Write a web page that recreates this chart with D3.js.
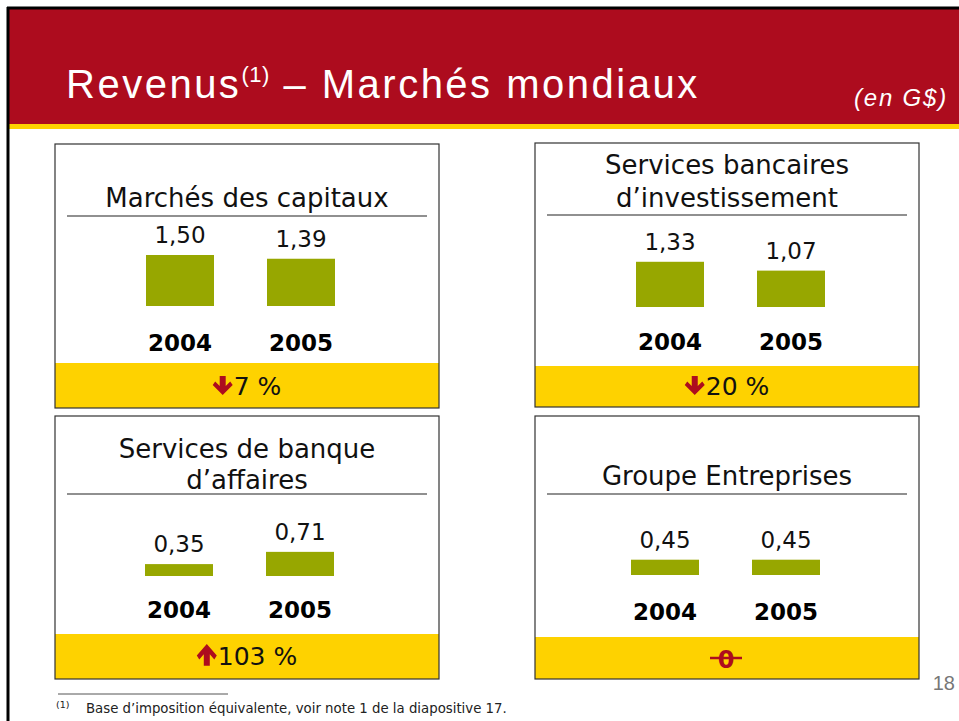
<!DOCTYPE html>
<html>
<head>
<meta charset="utf-8">
<script src="https://cdn.jsdelivr.net/npm/d3@7"></script>
<style>
  body { margin: 0; background: #fff; }
  svg { display: block; }
</style>
</head>
<body>
<div id="slide"></div>
<script>
// data (G$)
const years = ["2004", "2005"];
const titles = [
  ["Marchés des capitaux"],
  ["Services bancaires", "d’investissement"],
  ["Services de banque", "d’affaires"],
  ["Groupe Entreprises"]
];
const values2004 = [1.50, 1.33, 0.35, 0.45];
const values2005 = [1.39, 1.07, 0.71, 0.45];
const changes = [-7, -20, 103, 0];

// panel geometry (not data)
const layout = [
  { x: 55,  y: 144, h: 264, band: 219, rule: 72, tBase: [63],     base: 162, yr: 207, pct: 251, bar0: 91 },
  { x: 535, y: 143, h: 264, band: 223, rule: 72, tBase: [31, 64], base: 164, yr: 207, pct: 252, bar0: 101 },
  { x: 55,  y: 416, h: 263, band: 218, rule: 78, tBase: [42, 73], base: 160, yr: 202, pct: 249, bar0: 90 },
  { x: 535, y: 416, h: 263, band: 221, rule: 78, tBase: [69],     base: 159, yr: 204, pct: 252, bar0: 96 }
];
const panelW = 384;

const RED = "#ad0c1e", YELLOW = "#fed200", BAR = "#97a700";
const FONT = "'DejaVu Sans', Verdana, sans-serif";

const svg = d3.select("#slide").append("svg")
  .attr("width", 959).attr("height", 721);

// header
svg.append("rect").attr("x", 9).attr("y", 9).attr("width", 950).attr("height", 116).attr("fill", RED);
svg.append("rect").attr("x", 9).attr("y", 124).attr("width", 950).attr("height", 5).attr("fill", YELLOW);
svg.append("line").attr("x1", 7).attr("x2", 959).attr("y1", 8).attr("y2", 8)
  .attr("stroke", "#000").attr("stroke-width", 3);
svg.append("line").attr("x1", 8).attr("x2", 8).attr("y1", 7).attr("y2", 721)
  .attr("stroke", "#000").attr("stroke-width", 3);

const head = svg.append("text").attr("x", 66).attr("y", 98)
  .attr("fill", "#fff").attr("font-family", "'Liberation Sans', Arial, sans-serif")
  .attr("font-size", 40).attr("letter-spacing", 2.5);
head.append("tspan").text("Revenus");
head.append("tspan").attr("font-size", 22).attr("letter-spacing", 0.5).attr("dy", -16).text("(1)");
head.append("tspan").attr("dy", 16).text(" – Marchés mondiaux");

svg.append("text").attr("x", 948).attr("y", 106).attr("text-anchor", "end")
  .attr("fill", "#fff").attr("font-family", "'Liberation Sans', Arial, sans-serif")
  .attr("font-style", "italic").attr("font-size", 24).attr("letter-spacing", 1.8).text("(en G$)");

// bar height scale shared by all panels
const h = d3.scaleLinear().domain([0, 1.5]).range([0, 51]);

function arrowPath(up) {
  const pts = [[7,0],[13,0],[13,10],[17.5,5.5],[20,9],[10,19],[0,9],[2.5,5.5],[7,10]];
  return d3.line()(pts.map(p => up ? [p[0], 19 - p[1]] : p)) + "Z";
}

layout.forEach((L, i) => {
  const g = svg.append("g").attr("transform", `translate(${L.x},${L.y})`);

  g.append("rect").attr("y", L.band).attr("width", panelW).attr("height", L.h - L.band)
    .attr("fill", YELLOW);
  g.append("rect").attr("width", panelW).attr("height", L.h)
    .attr("fill", "none").attr("stroke", "#333").attr("stroke-width", 1.2);

  titles[i].forEach((t, k) => {
    g.append("text").attr("x", panelW / 2).attr("y", L.tBase[k])
      .attr("text-anchor", "middle").attr("font-family", FONT).attr("font-size", 26)
      .attr("fill", "#111").text(t);
  });
  g.append("line").attr("x1", 12).attr("x2", panelW - 12).attr("y1", L.rule).attr("y2", L.rule)
    .attr("stroke", "#222").attr("stroke-width", 1.2);

  const x = d3.scaleBand().domain(years)
    .range([L.bar0, L.bar0 + 189]).paddingInner(0.438).paddingOuter(0);
  const rows = years.map((yv, j) => ({ year: yv, v: j ? values2005[i] : values2004[i] }));

  g.selectAll(".bar").data(rows).enter().append("rect")
    .attr("x", d => x(d.year)).attr("width", x.bandwidth())
    .attr("y", d => L.base - h(d.v)).attr("height", d => h(d.v))
    .attr("fill", BAR);

  g.selectAll(".val").data(rows).enter().append("text")
    .attr("x", d => x(d.year) + x.bandwidth() / 2)
    .attr("y", d => L.base - h(d.v) - 12)
    .attr("text-anchor", "middle").attr("font-family", FONT).attr("font-size", 23)
    .attr("fill", "#111").text(d => d3.format(".2f")(d.v).replace(".", ","));

  g.selectAll(".yr").data(rows).enter().append("text")
    .attr("x", d => x(d.year) + x.bandwidth() / 2).attr("y", L.yr)
    .attr("text-anchor", "middle").attr("font-family", FONT).attr("font-size", 23)
    .attr("font-weight", "bold").attr("fill", "#000").text(d => d.year);

  const c = changes[i];
  if (c === 0) {
    const z = g.append("g").attr("transform", `translate(${panelW / 2 - 1},${L.pct})`);
    z.append("text").attr("x", 0).attr("y", 0).attr("text-anchor", "middle")
      .attr("font-family", FONT).attr("font-size", 24).attr("font-weight", "bold")
      .attr("fill", RED).text("0");
    z.append("line").attr("x1", -16).attr("x2", 16).attr("y1", -10).attr("y2", -10)
      .attr("stroke", RED).attr("stroke-width", 2.5);
  } else {
    const grp = g.append("g");
    grp.append("path").attr("d", arrowPath(c > 0)).attr("fill", RED)
      .attr("transform", c > 0 ? `translate(0,${L.pct - 21}) scale(1,1.15)` : `translate(0,${L.pct - 19})`);
    const t = grp.append("text").attr("x", 21).attr("y", L.pct)
      .attr("font-family", FONT).attr("font-size", 25).attr("fill", "#111")
      .text(Math.abs(c) + " %");
    const w = 21 + t.node().getComputedTextLength();
    grp.attr("transform", `translate(${(panelW - w) / 2},0)`);
  }
});

// footnote and page number
svg.append("line").attr("x1", 58).attr("x2", 228).attr("y1", 694).attr("y2", 694)
  .attr("stroke", "#555").attr("stroke-width", 1);
svg.append("text").attr("x", 56).attr("y", 708).attr("font-family", FONT)
  .attr("font-size", 9.5).attr("fill", "#222").text("(1)");
svg.append("text").attr("x", 86).attr("y", 713).attr("font-family", FONT)
  .attr("font-size", 13.3).attr("fill", "#222")
  .text("Base d’imposition équivalente, voir note 1 de la diapositive 17.");
svg.append("text").attr("x", 955).attr("y", 690).attr("text-anchor", "end")
  .attr("font-family", "'Liberation Sans', Arial, sans-serif").attr("font-size", 20)
  .attr("fill", "#777").text("18");
</script>
</body>
</html>
